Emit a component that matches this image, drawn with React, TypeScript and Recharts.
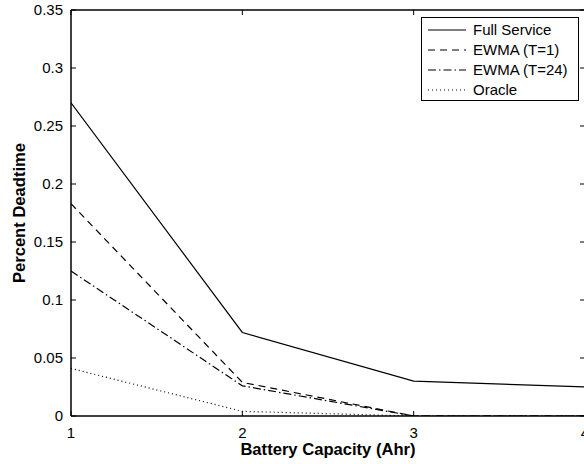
import React from 'react';
import { LineChart, Line, XAxis, YAxis, Legend, Label } from 'recharts';

const capacities = [1, 2, 3, 4];
const fullService = [0.27, 0.072, 0.03, 0.025];
const ewmaT1 = [0.183, 0.029, 0, 0];
const ewmaT24 = [0.125, 0.026, 0, 0];
const oracle = [0.041, 0.004, 0, 0];
const xTicks = [1, 2, 3, 4];
const yTicks = [0, 0.05, 0.1, 0.15, 0.2, 0.25, 0.3, 0.35];
const seriesNames = ['Full Service', 'EWMA (T=1)', 'EWMA (T=24)', 'Oracle'];

const data = capacities.map((c, i) => ({
  capacity: c,
  full: fullService[i],
  ewma1: ewmaT1[i],
  ewma24: ewmaT24[i],
  oracle: oracle[i],
}));

const series = [
  { key: 'full', name: seriesNames[0], dash: undefined as string | undefined, width: 1.2 },
  { key: 'ewma1', name: seriesNames[1], dash: '7 5', width: 1.2 },
  { key: 'ewma24', name: seriesNames[2], dash: '8 3 1.5 3', width: 1.2 },
  { key: 'oracle', name: seriesNames[3], dash: '1 3', width: 1.2 },
];

const FONT = '"Liberation Sans", Arial, Helvetica, sans-serif';

const LegendBox = () => (
  <div
    style={{
      border: '1px solid #000',
      background: '#fff',
      width: 158,
      height: 84,
      boxSizing: 'border-box',
      paddingTop: 2,
      fontFamily: FONT,
      fontSize: 15,
      color: '#000',
    }}
  >
    {series.map((s) => (
      <div key={s.key} style={{ display: 'flex', alignItems: 'center', height: 20 }}>
        <svg width={51} height={20} style={{ display: 'block' }}>
          <line x1={6} x2={44} y1={10} y2={10} stroke="#000" strokeWidth={1.2} strokeDasharray={s.dash} />
        </svg>
        <span style={{ lineHeight: '20px', whiteSpace: 'nowrap' }}>{s.name}</span>
      </div>
    ))}
  </div>
);

export default function App() {
  return (
    <div style={{ position: 'fixed', left: 0, top: 0, width: 584, height: 464, overflow: 'hidden', background: '#fff' }}>
      <LineChart
        width={610}
        height={464}
        data={data}
        margin={{ top: 9, right: 24, left: 0, bottom: 0 }}
        style={{ fontFamily: FONT }}
      >
        <XAxis
          dataKey="capacity"
          type="number"
          domain={[1, 4]}
          ticks={xTicks}
          allowDataOverflow
          height={48}
          tickSize={-5}
          tickMargin={16}
          axisLine={{ stroke: '#000', strokeWidth: 1.5 }}
          tickLine={{ stroke: '#000' }}
          tick={{ fill: '#000', fontSize: 15, fontFamily: FONT }}
        >
          <Label
            value="Battery Capacity (Ahr)"
            position="insideBottom"
            offset={9}
            style={{ fontWeight: 'bold', fontSize: 16.6, fill: '#000', fontFamily: FONT }}
          />
        </XAxis>
        <XAxis
          xAxisId="top"
          orientation="top"
          dataKey="capacity"
          type="number"
          domain={[1, 4]}
          ticks={xTicks}
          allowDataOverflow
          height={1}
          tickSize={-5}
          axisLine={{ stroke: '#000', strokeWidth: 1.5 }}
          tickLine={{ stroke: '#000' }}
          tick={() => null}
        />
        <YAxis
          type="number"
          domain={[0, 0.35]}
          ticks={yTicks}
          allowDataOverflow
          width={71}
          tickSize={-5}
          tickMargin={13}
          axisLine={{ stroke: '#000', strokeWidth: 1.5 }}
          tickLine={{ stroke: '#000' }}
          tick={{ fill: '#000', fontSize: 15, fontFamily: FONT }}
        >
          <Label
            value="Percent Deadtime"
            angle={-90}
            position="insideLeft"
            offset={19}
            style={{ fontWeight: 'bold', fontSize: 16.6, fill: '#000', textAnchor: 'middle', fontFamily: FONT }}
          />
        </YAxis>
        <YAxis
          yAxisId="right"
          orientation="right"
          type="number"
          domain={[0, 0.35]}
          ticks={yTicks}
          allowDataOverflow
          width={1}
          tickSize={-5}
          axisLine={{ stroke: '#000', strokeWidth: 1.5 }}
          tickLine={{ stroke: '#000' }}
          tick={() => null}
        />
        {series.map((s) => (
          <Line
            key={s.key}
            dataKey={s.key}
            name={s.name}
            type="linear"
            stroke="#000"
            strokeWidth={s.width}
            strokeDasharray={s.dash}
            dot={false}
            activeDot={false}
            isAnimationActive={false}
          />
        ))}
        <Legend
          layout="vertical"
          align="center"
          verticalAlign="middle"
          content={() => <LegendBox />}
          wrapperStyle={{ left: 421, top: 17, width: 158, height: 84 }}
        />
      </LineChart>
    </div>
  );
}
